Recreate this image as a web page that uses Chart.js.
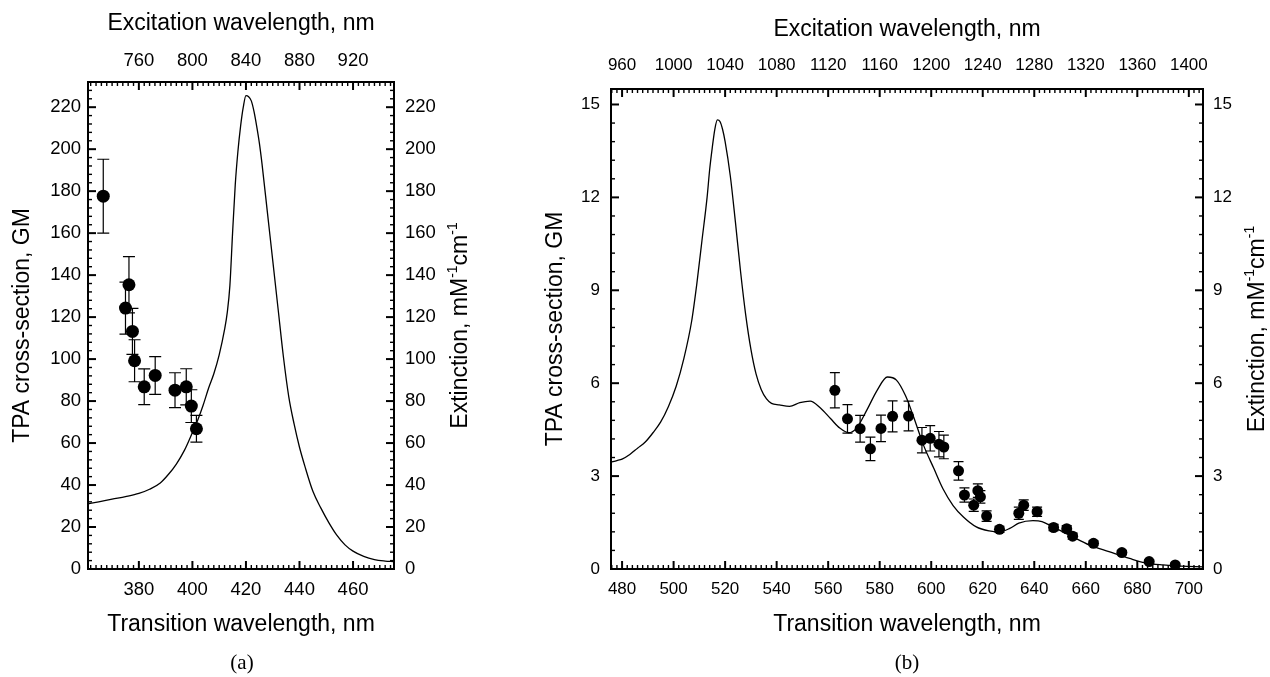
<!DOCTYPE html>
<html><head><meta charset="utf-8">
<script src="https://cdn.jsdelivr.net/npm/chart.js@4.4.1/dist/chart.umd.min.js"></script>
<style>
body{margin:0;background:#fff}
#wrap{position:relative;width:1270px;height:677px;overflow:hidden;background:#fff}
canvas{position:absolute;top:0}
.cap{position:absolute;font-family:'Liberation Serif','Times New Roman',serif;font-size:21px;color:#000;transform:translateX(-50%);top:650px;line-height:24px}
</style></head><body>
<div id="wrap">
<canvas id="ca" width="520" height="677" style="left:0"></canvas>
<canvas id="cb" width="750" height="677" style="left:520px"></canvas>
<div class="cap" style="left:242px">(a)</div>
<div class="cap" style="left:907px">(b)</div>
</div>
<script>
// ---------- Panel (a) data ----------
const a_ext_x = [361,365,370,375,380,384,388,391,394,397,400,402,404,406,408,410,412,413,414,415,416,417,418,419,420,421,422,423,424,425,426,428,430,432,434,436,438,440,442,445,448,451,454,457,460,464,468,472,475];
const a_ext_y = [31,32,33.3,34.5,36,38,41,45,50,56.5,65,71,78,86,93,102,114,122,135,160,183,199,211,220,225.5,225,223,218,211,203,193,170,147,124,101,82,69,58,49,37,29,22,16,11.5,8.5,6,4.5,3.8,3.5];
const a_tpa_x = [366.7,375.0,376.3,377.6,378.4,382.0,386.1,393.5,397.7,399.6,401.5];
const a_tpa_y = [177.6,124.3,135.4,113.2,99.2,86.8,92.2,85.2,86.8,77.6,66.8];
const a_tpa_err = [17.6,12.4,13.4,11,10,8.5,9,8.3,8.6,7.8,6.4];
const a_xTicks = [380,400,420,440,460];
const a_x2Ticks = [760,800,840,880,920];
const a_yTicks = [0,20,40,60,80,100,120,140,160,180,200,220];

// ---------- Panel (b) data ----------
const b_ext_x = [475.7,478,480,483,486,489,492,495,498,501,504,507,509,511,513,514,515,516,517,518,519,520,522,524,526,528,530,532,534,536,538,541,545,549,553,557,561,564.5,568,571,575,579,583,586.5,590,593,597,601,604.5,608.5,612.5,617.5,622.5,626.5,630.5,634,639.5,643,647,653.5,661.5,669,677,683,690,697,705.5];
const b_ext_y = [3.45,3.5,3.55,3.7,3.9,4.1,4.4,4.75,5.25,5.9,6.8,8.0,9.2,10.6,12.0,12.9,13.6,14.2,14.5,14.45,14.2,13.8,12.7,11.2,9.6,8.2,7.1,6.3,5.8,5.5,5.35,5.3,5.25,5.37,5.42,5.2,4.85,4.55,4.4,4.55,5.13,5.77,6.2,6.1,5.6,4.95,4.0,3.25,2.6,2.05,1.68,1.36,1.23,1.2,1.31,1.48,1.56,1.53,1.37,1.1,0.77,0.56,0.34,0.2,0.13,0.09,0.07];
const b_tpa_x = [562.6,567.5,572.4,576.4,580.5,585.0,591.2,596.4,599.6,603.0,604.9,610.6,612.9,616.5,618.1,619.1,621.5,626.5,634.0,635.9,641.1,647.5,652.6,654.9,663.0,674.0,684.6,694.7];
const b_tpa_y = [5.77,4.85,4.53,3.88,4.54,4.93,4.94,4.16,4.22,4.03,3.94,3.17,2.39,2.06,2.53,2.33,1.71,1.28,1.80,2.06,1.85,1.34,1.30,1.06,0.83,0.53,0.24,0.13];
const b_tpa_err = [0.57,0.46,0.43,0.38,0.43,0.5,0.48,0.41,0.41,0.41,0.38,0.3,0.23,0.2,0.22,0.2,0.17,0.1,0.2,0.17,0.15,0.1,0.1,0.1,0.08,0.07,0.05,0.05];
const b_xTicks = [480,500,520,540,560,580,600,620,640,660,680,700];
const b_x2Ticks = [960,1000,1040,1080,1120,1160,1200,1240,1280,1320,1360,1400];
const b_yTicks = [0,3,6,9,12,15];

Chart.defaults.font.family = "'Liberation Sans', Arial, Helvetica, sans-serif";
Chart.defaults.color = '#000';

const frameTicks = {
  id: 'frameTicks',
  afterDraw(chart, args, opts) {
    const ctx = chart.ctx, a = chart.chartArea;
    ctx.save(); ctx.strokeStyle = '#000'; ctx.lineCap = 'butt';
    for (const spec of opts.axes) {
      const s = chart.scales[spec.id];
      const k0 = Math.ceil(s.min / spec.minor - 1e-6), k1 = Math.floor(s.max / spec.minor + 1e-6);
      for (let k = k0; k <= k1; k++) {
        const v = k * spec.minor;
        const major = spec.major.some(m => Math.abs(m - v) < spec.minor / 10);
        const len = major ? 8 : 4;
        ctx.lineWidth = major ? 2 : 1.4;
        const p = s.getPixelForValue(v);
        ctx.beginPath();
        if (s.position === 'bottom') { ctx.moveTo(p, a.bottom); ctx.lineTo(p, a.bottom - len); }
        else if (s.position === 'top') { ctx.moveTo(p, a.top); ctx.lineTo(p, a.top + len); }
        else if (s.position === 'left') { ctx.moveTo(a.left, p); ctx.lineTo(a.left + len, p); }
        else { ctx.moveTo(a.right, p); ctx.lineTo(a.right - len, p); }
        ctx.stroke();
      }
    }
    ctx.restore();
  }
};

const errorBars = {
  id: 'errorBars',
  beforeDatasetsDraw(chart) {
    const ctx = chart.ctx;
    chart.data.datasets.forEach(ds => {
      if (!ds.errorBars) return;
      const xs = chart.scales[ds.xAxisID || 'x'], ys = chart.scales[ds.yAxisID || 'y'];
      ctx.save(); ctx.strokeStyle = '#000'; ctx.lineWidth = 1.2;
      ds.data.forEach((pt, j) => {
        const e = ds.errorBars[j];
        const x = xs.getPixelForValue(pt.x);
        const y1 = ys.getPixelForValue(pt.y + e), y2 = ys.getPixelForValue(pt.y - e);
        const c = ds.capHalf;
        ctx.beginPath();
        ctx.moveTo(x, y1); ctx.lineTo(x, y2);
        ctx.moveTo(x - c, y1); ctx.lineTo(x + c, y1);
        ctx.moveTo(x - c, y2); ctx.lineTo(x + c, y2);
        ctx.stroke();
      });
      ctx.restore();
    });
  }
};

const rightTitle = {
  id: 'rightTitle',
  afterDraw(chart, args, opts) {
    const ctx = chart.ctx, a = chart.chartArea;
    const big = "23px 'Liberation Sans', Arial, sans-serif", small = "14px 'Liberation Sans', Arial, sans-serif";
    const parts = [['Extinction, mM', big, 0], ['-1', small, -8], ['cm', big, 0], ['-1', small, -8]];
    ctx.save();
    let total = 0;
    parts.forEach(p => { ctx.font = p[1]; total += ctx.measureText(p[0]).width; });
    ctx.translate(opts.x, (a.top + a.bottom) / 2);
    ctx.rotate(-Math.PI / 2);
    ctx.fillStyle = '#000'; ctx.textBaseline = 'middle'; ctx.textAlign = 'left';
    let cx = -total / 2;
    parts.forEach(p => { ctx.font = p[1]; ctx.fillText(p[0], cx, p[2]); cx += ctx.measureText(p[0]).width; });
    ctx.restore();
  }
};

function axis(pos, min, max, ticksArr, fit, tickFont, tickPad, title) {
  const horiz = pos === 'top' || pos === 'bottom';
  return {
    type: 'linear', position: pos, min: min, max: max,
    afterBuildTicks: s => { s.ticks = ticksArr.map(v => ({ value: v })); },
    afterFit: s => { if (horiz) s.height = fit; else s.width = fit; },
    grid: { display: false, drawTicks: false },
    border: { display: true, color: '#000', width: 2 },
    ticks: { color: '#000', font: { size: tickFont }, padding: tickPad, maxRotation: 0, autoSkip: false,
             callback: v => String(v) },
    title: { display: !!title, text: title ? title.text : '', color: '#000', font: { size: 23 }, padding: title ? title.pad : 0 }
  };
}

function makeChart(id, cfg) {
  return new Chart(document.getElementById(id), {
    type: 'scatter',
    data: {
      datasets: [
        { label: 'Extinction', data: cfg.extX.map((x, i) => ({ x: x, y: cfg.extY[i] })), xAxisID: 'x', yAxisID: 'y2',
          showLine: true, pointRadius: 0, borderColor: '#000', borderWidth: 1.3, cubicInterpolationMode: 'monotone', order: 2 },
        { label: 'TPA', data: cfg.tpaX.map((x, i) => ({ x: x, y: cfg.tpaY[i] })), xAxisID: 'x', yAxisID: 'y',
          showLine: false, pointRadius: cfg.r, pointBackgroundColor: '#000', pointBorderWidth: 0,
          errorBars: cfg.tpaErr, capHalf: cfg.cap, order: 1 }
      ]
    },
    options: {
      responsive: false, animation: false, devicePixelRatio: 1,
      layout: { padding: 0 },
      plugins: { legend: { display: false }, tooltip: { enabled: false },
        frameTicks: { axes: cfg.tickSpecs }, rightTitle: { x: cfg.rtX } },
      scales: cfg.scales
    },
    plugins: [frameTicks, errorBars, rightTitle]
  });
}

// Panel (a)
const aX = [361, 475.3], aY = [0, 232];
makeChart('ca', {
  extX: a_ext_x, extY: a_ext_y, tpaX: a_tpa_x, tpaY: a_tpa_y, tpaErr: a_tpa_err, r: 6.5, cap: 6, rtX: 461,
  tickSpecs: [
    { id: 'x', major: a_xTicks, minor: 2 }, { id: 'x2', major: a_x2Ticks, minor: 4 },
    { id: 'y', major: a_yTicks, minor: 4 }, { id: 'y2', major: a_yTicks, minor: 4 }
  ],
  scales: {
    x: axis('bottom', aX[0], aX[1], a_xTicks, 108, 18.5, 9.5, { text: 'Transition wavelength, nm', pad: { top: 0, bottom: 39 } }),
    x2: axis('top', aX[0] * 2, aX[1] * 2, a_x2Ticks, 82, 18.5, 9.5, { text: 'Excitation wavelength, nm', pad: { top: 10, bottom: 0 } }),
    y: axis('left', aY[0], aY[1], a_yTicks, 88, 18.5, 7, { text: 'TPA cross-section, GM', pad: { top: 9, bottom: 0 } }),
    y2: axis('right', aY[0], aY[1], a_yTicks, 126, 18.5, 11, null)
  }
});

// Panel (b)
const bX = [475.7, 705.5], bY = [0, 15.5];
makeChart('cb', {
  extX: b_ext_x, extY: b_ext_y, tpaX: b_tpa_x, tpaY: b_tpa_y, tpaErr: b_tpa_err, r: 5.5, cap: 5, rtX: 738,
  tickSpecs: [
    { id: 'x', major: b_xTicks, minor: 2 }, { id: 'x2', major: b_x2Ticks, minor: 4 },
    { id: 'y', major: b_yTicks, minor: 0.6 }, { id: 'y2', major: b_yTicks, minor: 0.6 }
  ],
  scales: {
    x: axis('bottom', bX[0], bX[1], b_xTicks, 108, 17, 9.8, { text: 'Transition wavelength, nm', pad: { top: 0, bottom: 39 } }),
    x2: axis('top', bX[0] * 2, bX[1] * 2, b_x2Ticks, 89, 17, 13.6, { text: 'Excitation wavelength, nm', pad: { top: 16, bottom: 0 } }),
    y: axis('left', bY[0], bY[1], b_yTicks, 91, 17, 11, { text: 'TPA cross-section, GM', pad: { top: 22, bottom: 0 } }),
    y2: axis('right', bY[0], bY[1], b_yTicks, 67, 17, 10, null)
  }
});
</script>
</body></html>
